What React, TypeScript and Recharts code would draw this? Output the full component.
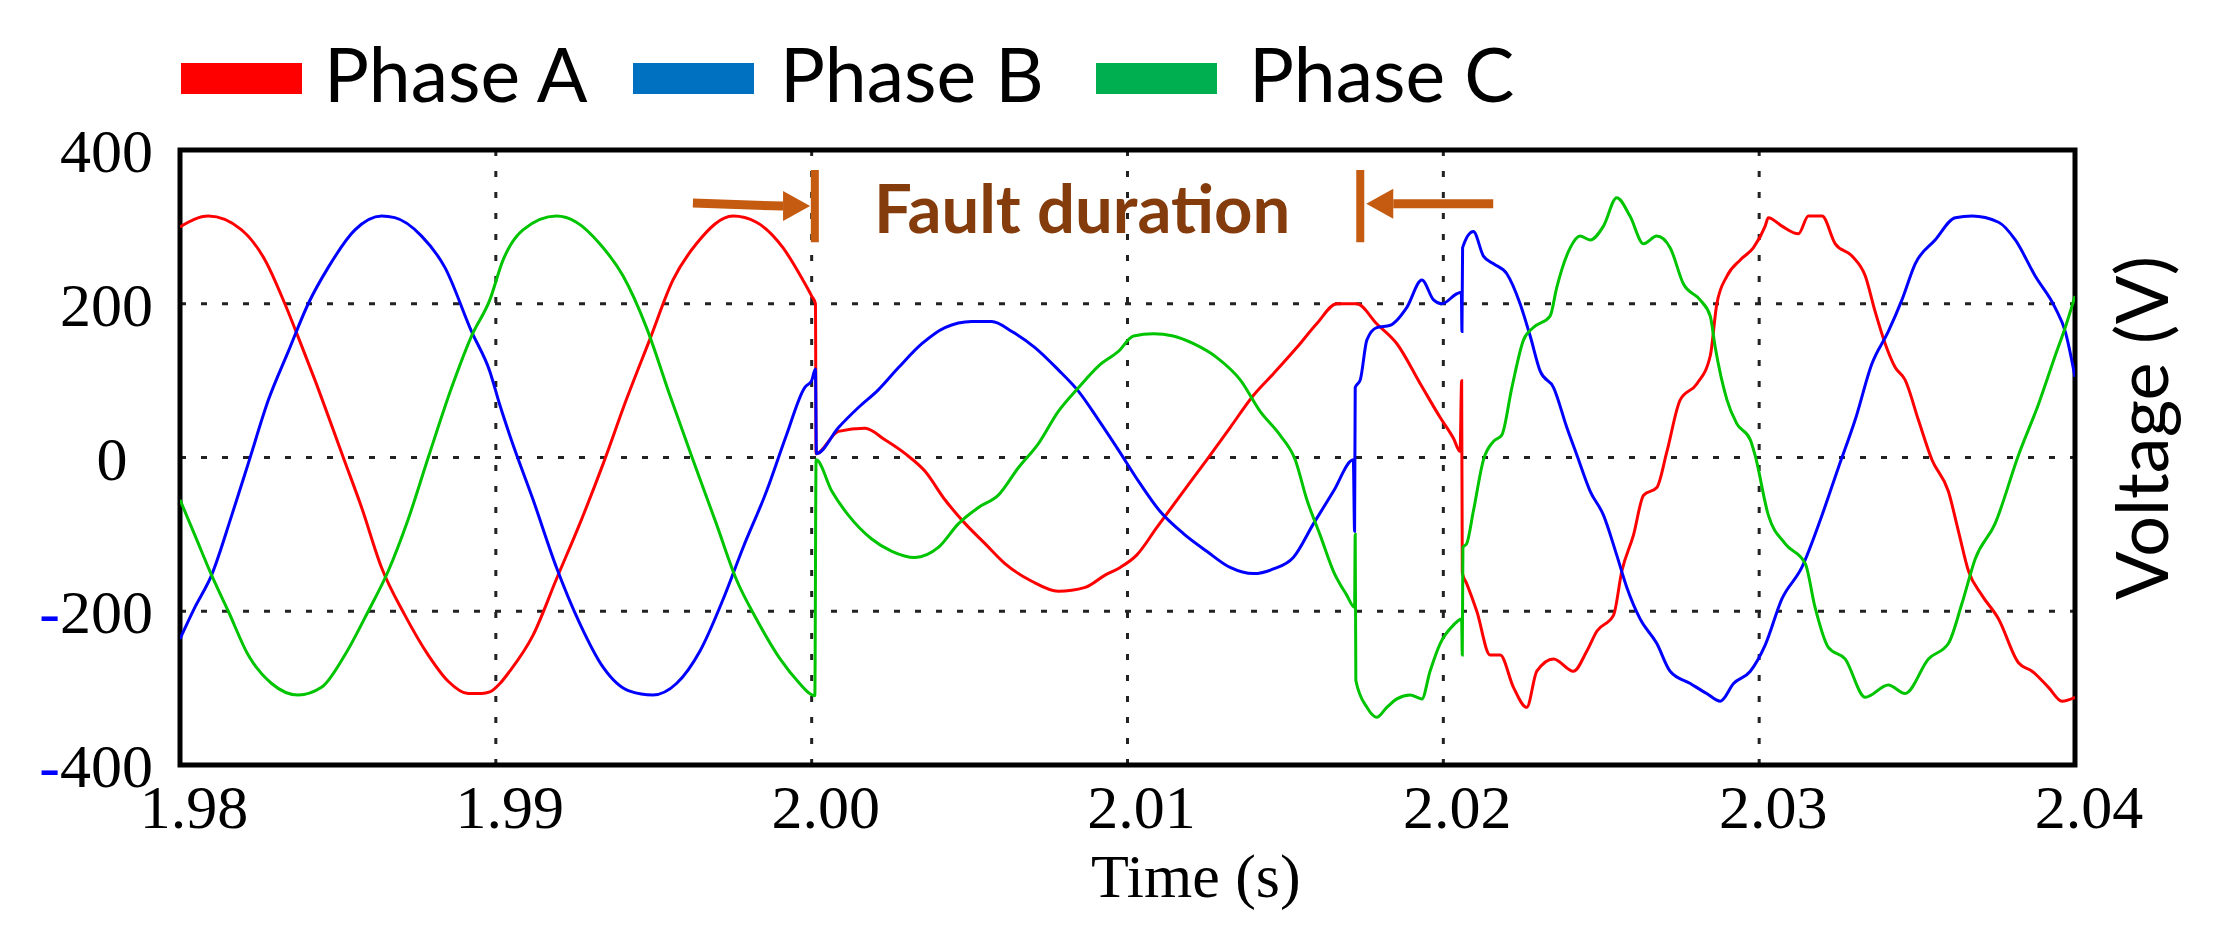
import { CartesianGrid, Legend, Line, LineChart, ReferenceArea, ReferenceLine, XAxis, YAxis } from "recharts";

// time (s) and voltage (V)
const phaseA: [number, number][] = [
  [1.98, 300], [1.9809, 314], [1.98195, 296], [1.98269, 257], [1.98332, 200], [1.98375, 156], [1.98427, 101],
  [1.98517, 0], [1.98575, -65], [1.98638, -143], [1.98712, -205], [1.98786, -257], [1.98849, -291], [1.98912, -307],
  [1.98955, -307], [1.98981, -305], [1.99013, -294], [1.99044, -278], [1.99118, -231], [1.99192, -158], [1.99266, -86],
  [1.9934, -8], [1.99413, 75], [1.99487, 153], [1.99561, 231], [1.99635, 278], [1.99751, 314], [1.99825, 306],
  [1.99909, 273], [1.99972, 231], [2.0, 210], [2.00012, 200], [2.00014, 5], [2.00085, 34], [2.00169, 38],
  [2.00232, 23], [2.00296, 5], [2.00359, -18], [2.00422, -55], [2.00486, -86], [2.00549, -112], [2.00612, -138],
  [2.00697, -161], [2.00781, -174], [2.00866, -169], [2.00929, -153], [2.00977, -143], [2.01029, -127], [2.01093, -91],
  [2.01177, -44], [2.01251, -3], [2.01325, 39], [2.01399, 81], [2.01462, 109], [2.01536, 143], [2.01599, 174],
  [2.01663, 200], [2.01726, 200], [2.01789, 174], [2.01853, 148], [2.01927, 96], [2.0199, 52], [2.02032, 25],
  [2.02053, 8], [2.02058, 100], [2.0206, -150], [2.02074, -164], [2.02106, -200], [2.02148, -257], [2.0218, -257],
  [2.02222, -299], [2.02264, -325], [2.02296, -278], [2.02349, -262], [2.02412, -278], [2.02454, -252], [2.02486, -226],
  [2.02539, -205], [2.02565, -148], [2.02602, -101], [2.02634, -49], [2.02676, -39], [2.02708, 8], [2.0275, 75],
  [2.02803, 96], [2.02845, 132], [2.02866, 200], [2.02898, 236], [2.0294, 257], [2.02982, 273], [2.03019, 301],
  [2.03029, 312], [2.03072, 301], [2.03124, 291], [2.03156, 314], [2.03199, 314], [2.03241, 278], [2.03294, 262],
  [2.03336, 236], [2.03367, 190], [2.03399, 148], [2.03431, 117], [2.03462, 101], [2.03504, 49], [2.03547, -3],
  [2.03599, -44], [2.03631, -96], [2.03663, -148], [2.03705, -179], [2.03758, -210], [2.03821, -267], [2.03864, -278],
  [2.03916, -299], [2.03959, -317], [2.04, -312],
];

const phaseB: [number, number][] = [
  [1.98, -236], [1.98047, -195], [1.981, -153], [1.98164, -75], [1.98216, -8], [1.9828, 75], [1.98343, 138],
  [1.98406, 200], [1.98469, 247], [1.98554, 296], [1.98638, 314], [1.9868, 312], [1.98765, 288], [1.98839, 247],
  [1.98923, 164], [1.98981, 112], [1.99013, 68], [1.99044, 29], [1.99118, -55], [1.99192, -143], [1.99266, -216],
  [1.9934, -273], [1.99424, -304], [1.99497, -309], [1.99572, -294], [1.99646, -252], [1.9972, -184], [1.99783, -117],
  [1.99857, -44], [1.9992, 29], [1.99978, 91], [2.0, 100], [2.00012, 115], [2.00015, 5], [2.00085, 39],
  [2.00148, 65], [2.00211, 88], [2.00275, 117], [2.00349, 148], [2.00422, 169], [2.00507, 177], [2.0057, 177],
  [2.00634, 164], [2.00707, 143], [2.00781, 114], [2.00845, 86], [2.00908, 49], [2.00971, 10], [2.0104, -34],
  [2.01103, -70], [2.01177, -99], [2.01251, -122], [2.01325, -143], [2.01399, -151], [2.01462, -145], [2.01525, -130],
  [2.01589, -86], [2.01652, -44], [2.01715, -3], [2.01719, -96], [2.01721, 91], [2.01737, 101], [2.01758, 153],
  [2.01789, 169], [2.01832, 172], [2.01884, 195], [2.01932, 231], [2.01969, 205], [2.01995, 200], [2.02043, 213],
  [2.02057, 215], [2.02059, 164], [2.02061, 273], [2.02095, 294], [2.02127, 262], [2.02159, 252], [2.02201, 239],
  [2.02243, 200], [2.02275, 158], [2.02307, 112], [2.02349, 91], [2.02391, 39], [2.02423, 3], [2.02465, -44],
  [2.02507, -75], [2.02549, -127], [2.02581, -169], [2.02623, -210], [2.02676, -242], [2.02718, -278], [2.02782, -294],
  [2.02834, -307], [2.02877, -317], [2.02919, -294], [2.02972, -278], [2.03019, -244], [2.03072, -184], [2.03135, -143],
  [2.03199, -75], [2.03251, -13], [2.03304, 49], [2.03357, 122], [2.03409, 164], [2.03452, 205], [2.03494, 252],
  [2.03557, 283], [2.03621, 312], [2.03674, 314], [2.03758, 306], [2.03811, 283], [2.03874, 236], [2.03937, 195],
  [2.03969, 164], [2.04, 105],
];

const phaseC: [number, number][] = [
  [1.98, -55], [1.98047, -101], [1.981, -153], [1.98153, -200], [1.98216, -257], [1.9829, -294], [1.98374, -309],
  [1.98448, -299], [1.98522, -257], [1.98596, -200], [1.98659, -148], [1.98722, -81], [1.98786, 0], [1.9886, 91],
  [1.98923, 158], [1.98981, 205], [1.99023, 257], [1.99086, 296], [1.99192, 314], [1.99255, 306], [1.99329, 278],
  [1.99403, 236], [1.99477, 169], [1.99551, 81], [1.99624, -3], [1.99698, -86], [1.99761, -158], [1.99825, -210],
  [1.999, -262], [1.99962, -294], [1.99994, -307], [2.0001, -310], [2.00014, -3], [2.00064, -44], [2.00116, -75],
  [2.0019, -106], [2.00254, -122], [2.00327, -130], [2.00401, -117], [2.00465, -86], [2.00528, -65], [2.00591, -49],
  [2.00655, -13], [2.00718, 18], [2.00781, 60], [2.00845, 91], [2.00908, 119], [2.00971, 138], [2.01019, 158],
  [2.01082, 161], [2.01145, 158], [2.01209, 148], [2.01283, 130], [2.01357, 101], [2.0142, 60], [2.01483, 29],
  [2.01531, -3], [2.01568, -55], [2.0161, -101], [2.01652, -148], [2.01694, -179], [2.01719, -195], [2.01721, -100],
  [2.01723, -290], [2.01758, -325], [2.01789, -338], [2.01821, -325], [2.01853, -314], [2.01895, -309], [2.01932, -314],
  [2.01958, -278], [2.0199, -242], [2.02032, -218], [2.02058, -210], [2.0206, -257], [2.02062, -117], [2.02074, -112],
  [2.02095, -70], [2.02127, -3], [2.02159, 21], [2.02185, 29], [2.02217, 91], [2.02254, 153], [2.02285, 169],
  [2.02338, 184], [2.02359, 221], [2.02402, 273], [2.02433, 288], [2.02465, 283], [2.02507, 301], [2.02549, 338],
  [2.02591, 314], [2.02634, 278], [2.02676, 288], [2.02718, 273], [2.0276, 226], [2.02813, 205], [2.02845, 184],
  [2.02861, 143], [2.02898, 75], [2.02929, 44], [2.02972, 23], [2.02987, 3], [2.03029, -75], [2.03082, -112],
  [2.03146, -138], [2.03177, -195], [2.03219, -247], [2.03272, -262], [2.03336, -312], [2.03409, -296], [2.03462, -307],
  [2.03536, -262], [2.03599, -242], [2.03642, -190], [2.03684, -132], [2.03747, -86], [2.03821, 3], [2.03885, 70],
  [2.03937, 132], [2.03969, 169], [2.04, 210],
];

const timeTicks = [1.98, 1.99, 2.0, 2.01, 2.02, 2.03, 2.04];
const voltTicks = [-400, -200, 0, 200, 400];
const phaseNames = ["Phase A", "Phase B", "Phase C"];
// fault window marks: [start, end] in s
const faultWindow = [2.0001, 2.01737];

const W = 2240;
const H = 943;
const SERIF = "'Liberation Serif', 'Times New Roman', serif";
const SANS = "Lato, 'Open Sans', sans-serif";
const ORANGE = "#C55A11";

const lineColors = ["#FF0000", "#0000FF", "#00C400"];
const legendColors = ["#FF0000", "#0070C0", "#00B050"];
const legendRectX = [181, 633, 1096];
const legendTextX = [324, 780, 1249];

const toPoints = (rows: [number, number][]) => rows.map(([t, v]) => ({ t, v }));

const VoltTick = (props: any) => {
  const { y, payload } = props;
  const v = payload.value as number;
  const zero = v === 0;
  return (
    <text x={zero ? 112 : 153} y={y + 22} textAnchor={zero ? "middle" : "end"} fontFamily={SERIF} fontSize={62} fill="#000">
      {v < 0 && <tspan fill="#0000FF">-</tspan>}
      {String(Math.abs(v))}
    </text>
  );
};

const TimeTick = (props: any) => {
  const { x, payload } = props;
  return (
    <text x={x + 14} y={828} textAnchor="middle" fontFamily={SERIF} fontSize={62} fill="#000">
      {(payload.value as number).toFixed(2)}
    </text>
  );
};

const Arrow = (props: any) => {
  const { x1, y1, x2, y2 } = props;
  const dir = Math.sign(x2 - x1);
  const bx = x2 - dir * 27;
  return (
    <g>
      <line x1={x1} y1={y1} x2={bx} y2={y2} stroke={ORANGE} strokeWidth={9} />
      <polygon points={`${x2},${y2} ${bx},${y2 - 15} ${bx},${y2 + 15}`} fill={ORANGE} />
    </g>
  );
};

const Overlay = () => (
  <svg width={W} height={H} style={{ position: "absolute", left: 0, top: 0, overflow: "visible", pointerEvents: "none" }}>
    {phaseNames.map((name, i) => (
      <g key={name}>
        <rect x={legendRectX[i]} y={63} width={121} height={31} fill={legendColors[i]} />
        <text x={legendTextX[i]} y={102} fontFamily={SANS} fontSize={75} fill="#000">{name}</text>
      </g>
    ))}
    <text x={874} y={233} fontFamily={SANS} fontWeight={700} fontSize={67} fill="#843C0C">Fault duration</text>
    <text x={1091} y={897} fontFamily={SERIF} fontSize={62} fill="#000">Time (s)</text>
    <text x={2168} y={428} textAnchor="middle" transform="rotate(-90 2168 428)" fontFamily={SANS} fontSize={72} fill="#000">
      Voltage (V)
    </text>
  </svg>
);

export default function App() {
  return (
    <div style={{ position: "absolute", left: 0, top: 0, width: W, height: H, background: "#fff" }}>
      <LineChart width={W} height={H} margin={{ top: 150, right: 165, bottom: 58, left: 0 }}>
        <CartesianGrid stroke="#222" strokeDasharray="6 15" strokeWidth={3} />
        <XAxis
          type="number"
          dataKey="t"
          domain={[1.98, 2.04]}
          ticks={timeTicks}
          interval={0}
          allowDataOverflow
          axisLine={false}
          tickLine={false}
          height={120}
          tick={<TimeTick />}
        />
        <YAxis
          type="number"
          domain={[-400, 400]}
          ticks={voltTicks}
          interval={0}
          allowDataOverflow
          axisLine={false}
          tickLine={false}
          width={180}
          tick={<VoltTick />}
        />
        <Legend content={() => <Overlay />} wrapperStyle={{ position: "absolute", left: 0, top: 0, width: W, height: 0 }} />
        <Line data={toPoints(phaseA)} dataKey="v" name="Phase A" type="monotone" stroke={lineColors[0]} strokeWidth={3} dot={false} isAnimationActive={false} />
        <Line data={toPoints(phaseB)} dataKey="v" name="Phase B" type="monotone" stroke={lineColors[1]} strokeWidth={3} dot={false} isAnimationActive={false} />
        <Line data={toPoints(phaseC)} dataKey="v" name="Phase C" type="monotone" stroke={lineColors[2]} strokeWidth={3} dot={false} isAnimationActive={false} />
        <ReferenceArea x1={1.98} x2={2.04} y1={-400} y2={400} fill="none" fillOpacity={0} stroke="#000" strokeWidth={5} />
        <ReferenceLine segment={[{ x: faultWindow[0], y: 374 }, { x: faultWindow[0], y: 280 }]} stroke={ORANGE} strokeWidth={8} />
        <ReferenceLine segment={[{ x: faultWindow[1], y: 374 }, { x: faultWindow[1], y: 280 }]} stroke={ORANGE} strokeWidth={8} />
        <ReferenceLine segment={[{ x: 1.99624, y: 331 }, { x: 1.99995, y: 327 }]} shape={<Arrow />} />
        <ReferenceLine segment={[{ x: 2.02158, y: 330 }, { x: 2.01756, y: 330 }]} shape={<Arrow />} />
      </LineChart>
    </div>
  );
}
